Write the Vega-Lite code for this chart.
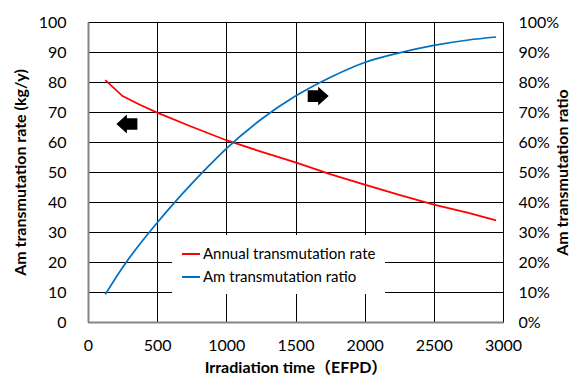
{
  "$schema": "https://vega.github.io/schema/vega-lite/v6.json",
  "width": 415,
  "height": 300,
  "autosize": {"type": "none"},
  "padding": {"left": 88, "top": 22, "right": 69, "bottom": 58},
  "background": "white",
  "config": {
    "view": {"stroke": null},
    "font": "Lato",
    "axis": {
      "gridColor": "black",
      "gridOpacity": 1,
      "gridWidth": 1,
      "ticks": false,
      "tickSize": 0,
      "domainColor": "#868686",
      "domainWidth": 2,
      "labelFont": "Lato",
      "labelFontSize": 16,
      "labelColor": "black",
      "labelFlush": false,
      "labelOverlap": false,
      "titleFont": "Lato, Noto Sans CJK JP",
      "titleFontSize": 16,
      "titleFontWeight": "bold",
      "titleColor": "black"
    }
  },
  "datasets": {
    "curves": [
      {"series": "Annual transmutation rate", "t": 125, "v": 80.6},
      {"series": "Annual transmutation rate", "t": 250, "v": 75.3},
      {"series": "Annual transmutation rate", "t": 375, "v": 72.4},
      {"series": "Annual transmutation rate", "t": 500, "v": 69.8},
      {"series": "Annual transmutation rate", "t": 750, "v": 65.1},
      {"series": "Annual transmutation rate", "t": 1000, "v": 60.6},
      {"series": "Annual transmutation rate", "t": 1250, "v": 56.8},
      {"series": "Annual transmutation rate", "t": 1500, "v": 53.2},
      {"series": "Annual transmutation rate", "t": 1750, "v": 49.3},
      {"series": "Annual transmutation rate", "t": 2000, "v": 45.8},
      {"series": "Annual transmutation rate", "t": 2250, "v": 42.4},
      {"series": "Annual transmutation rate", "t": 2500, "v": 39.1},
      {"series": "Annual transmutation rate", "t": 2750, "v": 36.4},
      {"series": "Annual transmutation rate", "t": 2950, "v": 33.9},
      {"series": "Am transmutation ratio", "t": 125, "v": 0.092},
      {"series": "Am transmutation ratio", "t": 250, "v": 0.182},
      {"series": "Am transmutation ratio", "t": 375, "v": 0.26},
      {"series": "Am transmutation ratio", "t": 500, "v": 0.331},
      {"series": "Am transmutation ratio", "t": 625, "v": 0.398},
      {"series": "Am transmutation ratio", "t": 750, "v": 0.461},
      {"series": "Am transmutation ratio", "t": 875, "v": 0.521},
      {"series": "Am transmutation ratio", "t": 1000, "v": 0.578},
      {"series": "Am transmutation ratio", "t": 1250, "v": 0.675},
      {"series": "Am transmutation ratio", "t": 1500, "v": 0.753},
      {"series": "Am transmutation ratio", "t": 1750, "v": 0.815},
      {"series": "Am transmutation ratio", "t": 2000, "v": 0.865},
      {"series": "Am transmutation ratio", "t": 2250, "v": 0.897},
      {"series": "Am transmutation ratio", "t": 2500, "v": 0.922},
      {"series": "Am transmutation ratio", "t": 2750, "v": 0.94},
      {"series": "Am transmutation ratio", "t": 2950, "v": 0.95}
    ],
    "arrows": [
      {"dir": "left", "t": 281, "v": 66},
      {"dir": "right", "t": 1664, "v": 75.3}
    ]
  },
  "encoding": {
    "x": {
      "field": "t",
      "type": "quantitative",
      "scale": {"domain": [0, 3000], "nice": false, "zero": false},
      "axis": {
        "values": [0, 500, 1000, 1500, 2000, 2500, 3000],
        "format": "d",
        "grid": true,
        "labelPadding": 15,
        "title": "Irradiation time（EFPD）",
        "titlePadding": 6
      }
    }
  },
  "layer": [
    {
      "data": {"name": "curves"},
      "transform": [{"filter": "datum.series === 'Annual transmutation rate'"}],
      "mark": {"type": "line", "strokeWidth": 1.75, "interpolate": "linear"},
      "encoding": {
        "y": {
          "field": "v",
          "type": "quantitative",
          "scale": {"domain": [0, 100], "nice": false},
          "axis": {
            "orient": "left",
            "values": [0, 10, 20, 30, 40, 50, 60, 70, 80, 90, 100],
            "grid": true,
            "labelPadding": 22,
            "title": "Am transmutation rate (kg/y)",
            "titlePadding": 10
          }
        },
        "color": {
          "field": "series",
          "type": "nominal",
          "scale": {
            "domain": ["Annual transmutation rate", "Am transmutation ratio"],
            "range": ["#FF0000", "#0070C0"]
          },
          "legend": {
            "orient": "none",
            "legendX": 84,
            "legendY": 213,
            "title": null,
            "direction": "vertical",
            "fillColor": "white",
            "padding": 9,
            "symbolType": "stroke",
            "symbolSize": 324,
            "symbolStrokeWidth": 2,
            "labelFont": "Lato",
            "labelFontSize": 15,
            "labelColor": "black",
            "labelOffset": 2,
            "rowPadding": 5,
            "labelLimit": 300
          }
        }
      }
    },
    {
      "data": {"name": "arrows"},
      "mark": {"type": "point", "filled": true, "color": "black", "opacity": 1, "strokeWidth": 0, "size": 441},
      "encoding": {
        "y": {
          "field": "v",
          "type": "quantitative",
          "scale": {"domain": [0, 100], "nice": false},
          "axis": null
        },
        "shape": {
          "field": "dir",
          "type": "nominal",
          "scale": {
            "domain": ["left", "right"],
            "range": [
              "M -1 0 L 0 -0.9 L 0 -0.55 L 1 -0.55 L 1 0.55 L 0 0.55 L 0 0.9 Z",
              "M 1 0 L 0 -0.9 L 0 -0.55 L -1 -0.55 L -1 0.55 L 0 0.55 L 0 0.9 Z"
            ]
          },
          "legend": null
        }
      }
    },
    {
      "data": {"name": "curves"},
      "transform": [{"filter": "datum.series === 'Am transmutation ratio'"}],
      "mark": {"type": "line", "strokeWidth": 1.75, "interpolate": "monotone"},
      "encoding": {
        "y": {
          "field": "v",
          "type": "quantitative",
          "scale": {"domain": [0, 1], "nice": false},
          "axis": {
            "orient": "right",
            "values": [0, 0.1, 0.2, 0.3, 0.4, 0.5, 0.6, 0.7, 0.8, 0.9, 1],
            "format": ".0%",
            "grid": false,
            "domain": false,
            "labelPadding": 15,
            "title": "Am transmutation ratio",
            "titleAngle": 270,
            "titlePadding": 12
          }
        },
        "color": {
          "field": "series",
          "type": "nominal",
          "scale": {
            "domain": ["Annual transmutation rate", "Am transmutation ratio"],
            "range": ["#FF0000", "#0070C0"]
          },
          "legend": {
            "orient": "none",
            "legendX": 84,
            "legendY": 213,
            "title": null,
            "direction": "vertical",
            "fillColor": "white",
            "padding": 9,
            "symbolType": "stroke",
            "symbolSize": 324,
            "symbolStrokeWidth": 2,
            "labelFont": "Lato",
            "labelFontSize": 15,
            "labelColor": "black",
            "labelOffset": 2,
            "rowPadding": 5,
            "labelLimit": 300
          }
        }
      }
    }
  ],
  "resolve": {"scale": {"y": "independent"}}
}
